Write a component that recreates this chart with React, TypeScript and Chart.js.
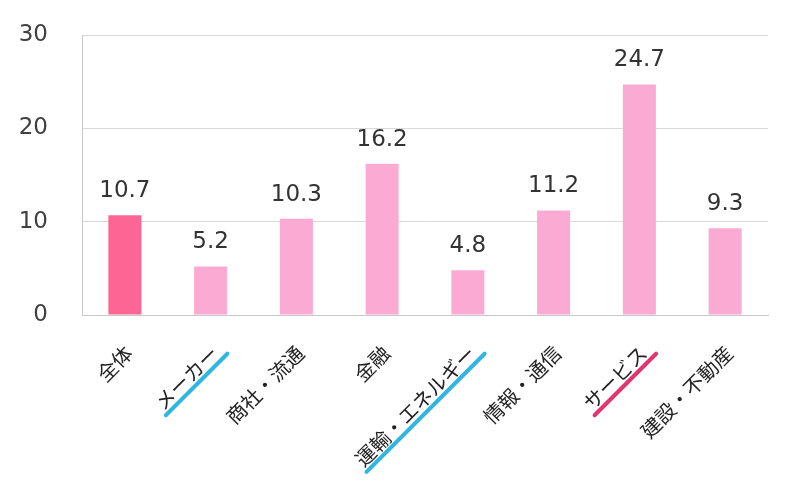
import React, { useEffect, useRef } from "react";
import { Chart, registerables } from "chart.js";

Chart.register(...registerables);

const categories = ["全体", "メーカー", "商社・流通", "金融", "運輸・エネルギー", "情報・通信", "サービス", "建設・不動産"];
const values = [10.7, 5.2, 10.3, 16.2, 4.8, 11.2, 24.7, 9.3];
const barColors = ["#fd6594", "#fbaad3", "#fbaad3", "#fbaad3", "#fbaad3", "#fbaad3", "#fbaad3", "#fbaad3"];
const underlineColors: (string | null)[] = [null, "#2fb6e1", null, null, "#2fb6e1", null, "#e4346f", null];
const yTicks = [0, 10, 20, 30];

const valueLabels = {
  id: "valueLabels",
  afterDatasetsDraw(chart: any) {
    const ctx = chart.ctx;
    const meta = chart.getDatasetMeta(0);
    ctx.save();
    ctx.font = "23px 'DejaVu Sans'";
    ctx.fillStyle = "#333333";
    ctx.textAlign = "center";
    ctx.textBaseline = "alphabetic";
    meta.data.forEach((bar: any, i: number) => {
      ctx.fillText(values[i].toFixed(1), bar.x, bar.y - 18);
    });
    ctx.restore();
  },
};

const underlines = {
  id: "underlines",
  afterDraw(chart: any) {
    const xs = chart.scales.x;
    const items = xs.getLabelItems ? xs.getLabelItems() : [];
    const ctx = chart.ctx;
    items.forEach((item: any, i: number) => {
      const color = underlineColors[i];
      if (!color) return;
      const [tx, ty] = item.options.translation;
      ctx.save();
      ctx.font = item.font.string;
      const w = ctx.measureText(String(item.label)).width;
      ctx.translate(tx, ty);
      ctx.rotate(item.options.rotation);
      const yy = item.textOffset + 12;
      ctx.strokeStyle = color;
      ctx.lineWidth = 4;
      ctx.lineCap = "round";
      ctx.beginPath();
      ctx.moveTo(-w - 1, yy);
      ctx.lineTo(6, yy);
      ctx.stroke();
      ctx.restore();
    });
  },
};

export default function App() {
  const ref = useRef<HTMLCanvasElement | null>(null);
  useEffect(() => {
    if (!ref.current) return;
    const chart = new Chart(ref.current, {
      type: "bar",
      data: {
        labels: categories,
        datasets: [
          {
            data: values,
            backgroundColor: barColors,
            borderWidth: 0,
            categoryPercentage: 1,
            barPercentage: 0.385,
          },
        ],
      },
      options: {
        animation: false,
        responsive: false,
        maintainAspectRatio: false,
        layout: { padding: { top: 35, right: 32, left: 0, bottom: 0 } },
        plugins: { legend: { display: false }, tooltip: { enabled: false }, title: { display: false } },
        scales: {
          x: {
            grid: { display: false, drawTicks: false },
            border: { display: true, color: "#c8c8c8", width: 1 },
            ticks: {
              minRotation: 45,
              maxRotation: 45,
              autoSkip: false,
              padding: 26,
              labelOffset: 4,
              color: "#222222",
              font: { family: "'Noto Sans CJK JP'", size: 20 },
            },
            afterFit: (s: any) => {
              s.height = 179;
              s.paddingLeft = 0;
              s.paddingRight = 0;
            },
          },
          y: {
            min: 0,
            max: 30,
            afterBuildTicks: (s: any) => {
              s.ticks = yTicks.map((v) => ({ value: v }));
            },
            grid: { color: "#d9d9d9", drawTicks: false, lineWidth: 1 },
            border: { display: true, color: "#c8c8c8", width: 1 },
            ticks: {
              padding: 34,
              color: "#404040",
              font: { family: "'DejaVu Sans'", size: 23 },
            },
            afterFit: (s: any) => {
              s.width = 82;
              s.paddingTop = 0;
              s.paddingBottom = 0;
            },
          },
        },
      },
      plugins: [valueLabels, underlines],
    });
    return () => chart.destroy();
  }, []);
  return (
    <div style={{ position: "fixed", left: 0, top: 0, width: 800, height: 494, background: "#ffffff" }}>
      <canvas ref={ref} width={800} height={494} style={{ width: 800, height: 494, display: "block" }} />
    </div>
  );
}
